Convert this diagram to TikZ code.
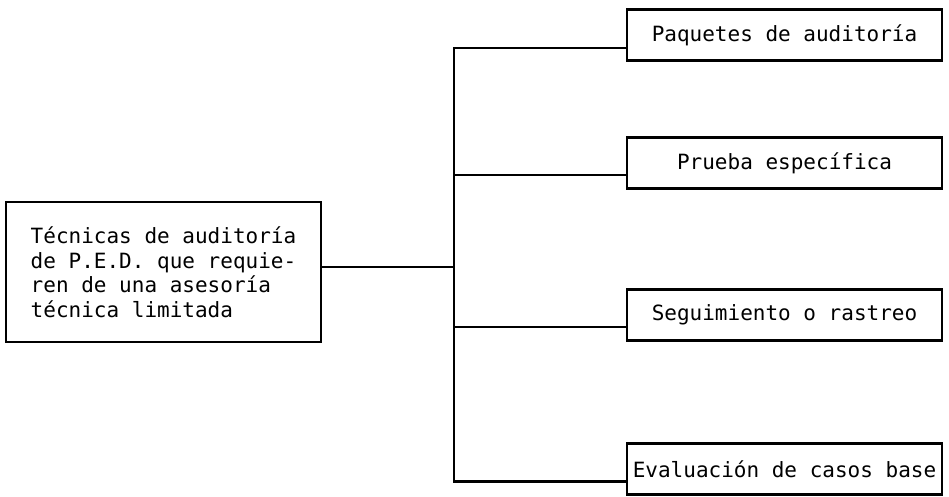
\documentclass[tikz,border=0pt]{standalone}
\usepackage{fontspec}
\setmonofont{DejaVu Sans Mono}
\usetikzlibrary{calc}

\begin{document}
\begin{tikzpicture}[x=1pt, y=-1pt,
    every node/.style={font=\ttfamily\fontsize{21}{24.5}\selectfont},
    box/.style={draw, line width=2.2pt, inner sep=0pt, minimum width=315,
                minimum height=51, align=center},
    mainbox/.style={draw, line width=2.2pt, inner sep=0pt, minimum width=315,
                minimum height=140, align=left},
    link/.style={line width=2.2pt}]
  \useasboundingbox (0,0) rectangle (949,497);

  % root box
  \node[mainbox] (root) at (163.5,272)
    {Técnicas de auditoría\\de P.E.D. que requie-\\ren de una asesoría\\técnica limitada};

  % branch boxes
  \node[box] (paq) at (784.5,35)  {Paquetes de auditoría};
  \node[box] (pru) at (784.5,163) {Prueba específica};
  \node[box] (seg) at (784.5,315) {Seguimiento o rastreo};
  \node[box] (eva) at (784.5,469) {Evaluación de casos base};

  % attachment points
  \coordinate (bus) at (454,0);
  \coordinate (r0) at ($(root.east)!0.07!(root.north east)$);
  \coordinate (a1) at ($(paq.west)!0.5!(paq.south west)$);
  \coordinate (a2) at ($(pru.west)!0.45!(pru.south west)$);
  \coordinate (a3) at ($(seg.west)!0.45!(seg.south west)$);
  \coordinate (a4) at ($(eva.west)!0.47!(eva.south west)$);

  % tree connectors
  \draw[link] (a1) -- (a1 -| bus) -- (a4 -| bus) -- (a4);
  \draw[link] (a2 -| bus) -- (a2);
  \draw[link] (a3 -| bus) -- (a3);
  \draw[link] (r0) -- (r0 -| bus);
\end{tikzpicture}
\end{document}
